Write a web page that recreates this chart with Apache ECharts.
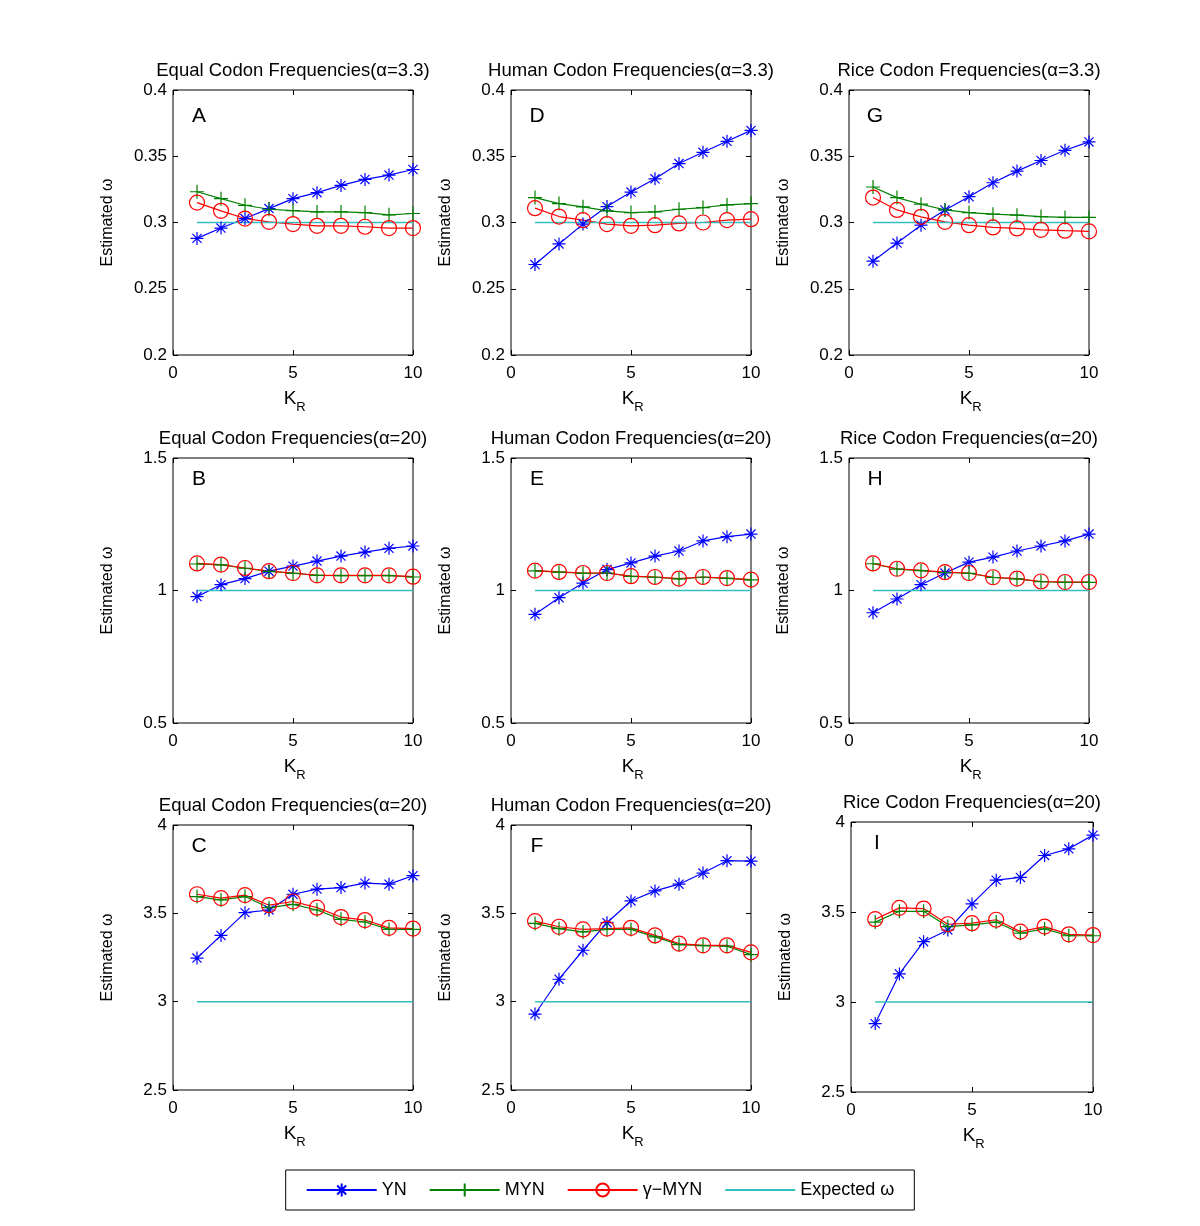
<!DOCTYPE html>
<html><head><meta charset="utf-8">
<script src="https://cdn.jsdelivr.net/npm/echarts@6/dist/echarts.min.js"></script>
<style>html,body{margin:0;padding:0;background:#fff}#c{width:1200px;height:1226px}</style>
</head><body><div id="c"></div>
<script>
// ---- data ----
const kR = [1, 2, 3, 4, 5, 6, 7, 8, 9, 10];
const expectedOmega = [0.3, 1, 3];           // per row
const yRanges = [[0.2, 0.4, 0.05], [0.5, 1.5, 0.5], [2.5, 4, 0.5]];
const xTicks = [0, 10, 5];
const seriesNames = ['YN', 'MYN', 'γ−MYN', 'Expected ω'];

// Panel A: Equal, alpha=3.3
const ynA   = [0.288, 0.2958, 0.303, 0.3105, 0.318, 0.3225, 0.328, 0.3325, 0.3358, 0.340];
const mynA  = [0.3232, 0.318, 0.313, 0.310, 0.309, 0.308, 0.308, 0.3075, 0.3058, 0.3068];
const gmynA = [0.315, 0.3088, 0.303, 0.3005, 0.2988, 0.2975, 0.2975, 0.2968, 0.2958, 0.2958];
// Panel D: Human, alpha=3.3
const ynD   = [0.2683, 0.2838, 0.2988, 0.312, 0.323, 0.333, 0.3445, 0.353, 0.3613, 0.3695];
const mynD  = [0.3188, 0.3143, 0.3118, 0.3088, 0.3075, 0.308, 0.310, 0.3113, 0.3133, 0.3143];
const gmynD = [0.3108, 0.3045, 0.3018, 0.2988, 0.2975, 0.298, 0.2993, 0.300, 0.3018, 0.3025];
// Panel G: Rice, alpha=3.3
const ynG   = [0.2708, 0.2845, 0.298, 0.3095, 0.3195, 0.330, 0.3388, 0.3468, 0.3545, 0.3608];
const mynG  = [0.3268, 0.3188, 0.3138, 0.3095, 0.3075, 0.3063, 0.3055, 0.3045, 0.3038, 0.3038];
const gmynG = [0.3188, 0.3095, 0.3043, 0.3005, 0.298, 0.2963, 0.2955, 0.2945, 0.2938, 0.2933];
// Panel B: Equal, alpha=20 (omega=1)
const ynB   = [0.977, 1.022, 1.045, 1.073, 1.092, 1.111, 1.130, 1.145, 1.159, 1.168];
const mynB  = [1.100, 1.097, 1.084, 1.072, 1.065, 1.057, 1.056, 1.056, 1.056, 1.051];
const gmynB = [1.102, 1.098, 1.085, 1.073, 1.066, 1.057, 1.057, 1.057, 1.057, 1.052];
// Panel E: Human, alpha=20 (omega=1)
const ynE   = [0.910, 0.973, 1.028, 1.079, 1.104, 1.130, 1.149, 1.187, 1.203, 1.213];
const mynE  = [1.074, 1.069, 1.065, 1.066, 1.053, 1.050, 1.044, 1.050, 1.046, 1.040];
const gmynE = [1.075, 1.070, 1.066, 1.066, 1.054, 1.051, 1.045, 1.051, 1.047, 1.041];
// Panel H: Rice, alpha=20 (omega=1)
const ynH   = [0.916, 0.968, 1.022, 1.066, 1.107, 1.126, 1.149, 1.168, 1.187, 1.213];
const mynH  = [1.101, 1.081, 1.075, 1.068, 1.065, 1.049, 1.044, 1.033, 1.031, 1.031];
const gmynH = [1.102, 1.082, 1.076, 1.069, 1.066, 1.050, 1.045, 1.034, 1.032, 1.032];
// Panel C: Equal, alpha=20 (omega=3)
const ynC   = [3.247, 3.375, 3.504, 3.519, 3.608, 3.637, 3.646, 3.671, 3.665, 3.713];
const mynC  = [3.595, 3.576, 3.595, 3.532, 3.551, 3.519, 3.466, 3.451, 3.409, 3.409];
const gmynC = [3.608, 3.586, 3.603, 3.546, 3.567, 3.532, 3.479, 3.462, 3.418, 3.414];
// Panel F: Human, alpha=20 (omega=3)
const ynF   = [2.930, 3.127, 3.291, 3.447, 3.570, 3.627, 3.665, 3.728, 3.798, 3.795];
const mynF  = [3.443, 3.413, 3.395, 3.409, 3.409, 3.367, 3.323, 3.317, 3.314, 3.266];
const gmynF = [3.456, 3.424, 3.409, 3.414, 3.418, 3.375, 3.329, 3.319, 3.319, 3.279];
// Panel I: Rice, alpha=20 (omega=3)
const ynI   = [2.880, 3.156, 3.335, 3.400, 3.545, 3.677, 3.692, 3.814, 3.851, 3.927];
const mynI  = [3.444, 3.504, 3.504, 3.419, 3.429, 3.444, 3.382, 3.406, 3.368, 3.368];
const gmynI = [3.460, 3.523, 3.519, 3.432, 3.438, 3.457, 3.391, 3.419, 3.376, 3.372];

const titlesRow = [
  ['Equal Codon Frequencies(α=3.3)', 'Human Codon Frequencies(α=3.3)', 'Rice Codon Frequencies(α=3.3)'],
  ['Equal Codon Frequencies(α=20)', 'Human Codon Frequencies(α=20)', 'Rice Codon Frequencies(α=20)'],
  ['Equal Codon Frequencies(α=20)', 'Human Codon Frequencies(α=20)', 'Rice Codon Frequencies(α=20)']
];

const panels = [
  {letter: 'A', row: 0, col: 0, yn: ynA, myn: mynA, gmyn: gmynA},
  {letter: 'B', row: 1, col: 0, yn: ynB, myn: mynB, gmyn: gmynB},
  {letter: 'C', row: 2, col: 0, yn: ynC, myn: mynC, gmyn: gmynC},
  {letter: 'D', row: 0, col: 1, yn: ynD, myn: mynD, gmyn: gmynD},
  {letter: 'E', row: 1, col: 1, yn: ynE, myn: mynE, gmyn: gmynE},
  {letter: 'F', row: 2, col: 1, yn: ynF, myn: mynF, gmyn: gmynF},
  {letter: 'G', row: 0, col: 2, yn: ynG, myn: mynG, gmyn: gmynG},
  {letter: 'H', row: 1, col: 2, yn: ynH, myn: mynH, gmyn: gmynH},
  {letter: 'I', row: 2, col: 2, yn: ynI, myn: mynI, gmyn: gmynI}
];

// ---- layout ----
const colLeft = [173, 511, 849];
const rowTop = [90, 458, 825];
const W = 240, H = 265;
function rectOf(p) {
  if (p.letter === 'I') return {left: 851, top: 822, width: 242, height: 270};
  return {left: colLeft[p.col], top: rowTop[p.row], width: W, height: H};
}

const FONT = 'Liberation Sans, Arial, Helvetica, sans-serif';
const BLUE = '#0000ff', GREEN = '#008000', RED = '#ff0000', CYAN = '#33bfbf';
const asterisk = 'path://M5,0 L5,10 M0,5 L10,5 M1.5,1.5 L8.5,8.5 M1.5,8.5 L8.5,1.5';
const plus = 'path://M5,0 L5,10 M0,5 L10,5';

const grids = [], xAxes = [], yAxes = [], series = [], graphics = [];
const n = panels.length;
const pair = (ys) => kR.map((k, i) => [k, ys[i]]);

panels.forEach((p, i) => {
  const r = rectOf(p);
  grids.push({left: r.left, top: r.top, width: r.width, height: r.height,
    show: true, borderColor: '#000', borderWidth: 1, backgroundColor: 'transparent'});
  const yr = yRanges[p.row];
  const tickStyle = {show: true, inside: true, length: 5, lineStyle: {color: '#000', width: 1}};
  const noLine = {show: false, onZero: false};
  xAxes[i] = {type: 'value', gridIndex: i, position: 'bottom', min: xTicks[0], max: xTicks[1], interval: xTicks[2],
    axisLine: noLine, splitLine: {show: false}, axisTick: tickStyle,
    axisLabel: {show: true, color: '#000', fontSize: 17, fontFamily: FONT, margin: 10}};
  xAxes[n + i] = {type: 'value', gridIndex: i, position: 'top', min: xTicks[0], max: xTicks[1], interval: xTicks[2],
    axisLine: noLine, splitLine: {show: false}, axisTick: tickStyle, axisLabel: {show: false}};
  yAxes[i] = {type: 'value', gridIndex: i, position: 'left', min: yr[0], max: yr[1], interval: yr[2],
    axisLine: noLine, splitLine: {show: false}, axisTick: tickStyle,
    axisLabel: {show: true, color: '#000', fontSize: 17, fontFamily: FONT, margin: 6},
    name: 'Estimated ω', nameLocation: 'middle', nameRotate: 90, nameGap: 57,
    nameTextStyle: {color: '#000', fontSize: 16, fontFamily: FONT}};
  yAxes[n + i] = {type: 'value', gridIndex: i, position: 'right', min: yr[0], max: yr[1], interval: yr[2],
    axisLine: noLine, splitLine: {show: false}, axisTick: tickStyle, axisLabel: {show: false}};

  const common = {type: 'line', xAxisIndex: i, yAxisIndex: i, clip: false, animation: false, showSymbol: true};
  series.push(Object.assign({}, common, {name: seriesNames[0], data: pair(p.yn), symbol: asterisk, symbolSize: 13,
    lineStyle: {color: BLUE, width: 1.2}, itemStyle: {color: 'transparent', borderColor: BLUE, borderWidth: 1.2}}));
  series.push(Object.assign({}, common, {name: seriesNames[1], data: pair(p.myn), symbol: plus, symbolSize: 14,
    lineStyle: {color: GREEN, width: 1.2}, itemStyle: {color: 'transparent', borderColor: GREEN, borderWidth: 1.2}}));
  series.push(Object.assign({}, common, {name: seriesNames[2], data: pair(p.gmyn), symbol: 'circle', symbolSize: 15,
    lineStyle: {color: RED, width: 1.2}, itemStyle: {color: 'transparent', borderColor: RED, borderWidth: 1.2}}));
  const ev = expectedOmega[p.row];
  series.push(Object.assign({}, common, {name: seriesNames[3], data: [[kR[0], ev], [kR[kR.length - 1], ev]],
    symbol: 'circle', showSymbol: false, lineStyle: {color: CYAN, width: 1.5},
    itemStyle: {color: 'transparent', borderColor: 'transparent', borderWidth: 0}}));

  // title
  graphics.push({type: 'text', x: r.left + r.width / 2, y: r.top - 19,
    style: {text: titlesRow[p.row][p.col], fontSize: 18.5, fontFamily: FONT, fill: '#000',
      textAlign: 'center', textVerticalAlign: 'middle'}});
  // panel letter
  graphics.push({type: 'text', x: r.left + 26, y: r.top + (p.row === 0 ? 26 : 21),
    style: {text: p.letter, fontSize: 21, fontFamily: FONT, fill: '#000',
      textAlign: 'center', textVerticalAlign: 'middle'}});
  // x axis label K_R
  const cx = r.left + r.width / 2 - 3, by = r.top + r.height;
  graphics.push({type: 'text', x: cx, y: by + 44,
    style: {text: 'K', fontSize: 19, fontFamily: FONT, fill: '#000', textAlign: 'center', textVerticalAlign: 'middle'}});
  graphics.push({type: 'text', x: cx + 11, y: by + 52,
    style: {text: 'R', fontSize: 13, fontFamily: FONT, fill: '#000', textAlign: 'center', textVerticalAlign: 'middle'}});
});

const chart = echarts.init(document.getElementById('c'), null, {renderer: 'canvas'});
chart.setOption({
  backgroundColor: '#fff',
  animation: false,
  textStyle: {fontFamily: FONT},
  grid: grids,
  xAxis: xAxes,
  yAxis: yAxes,
  series: series,
  graphic: graphics,
  legend: {
    data: seriesNames,
    left: 'center', top: 1170,
    borderColor: '#000', borderWidth: 1, borderRadius: 0,
    padding: [11, 20], itemWidth: 70, itemHeight: 16, itemGap: 22,
    textStyle: {color: '#000', fontSize: 18, fontFamily: FONT},
    selectedMode: false
  }
});
</script>
</body></html>
